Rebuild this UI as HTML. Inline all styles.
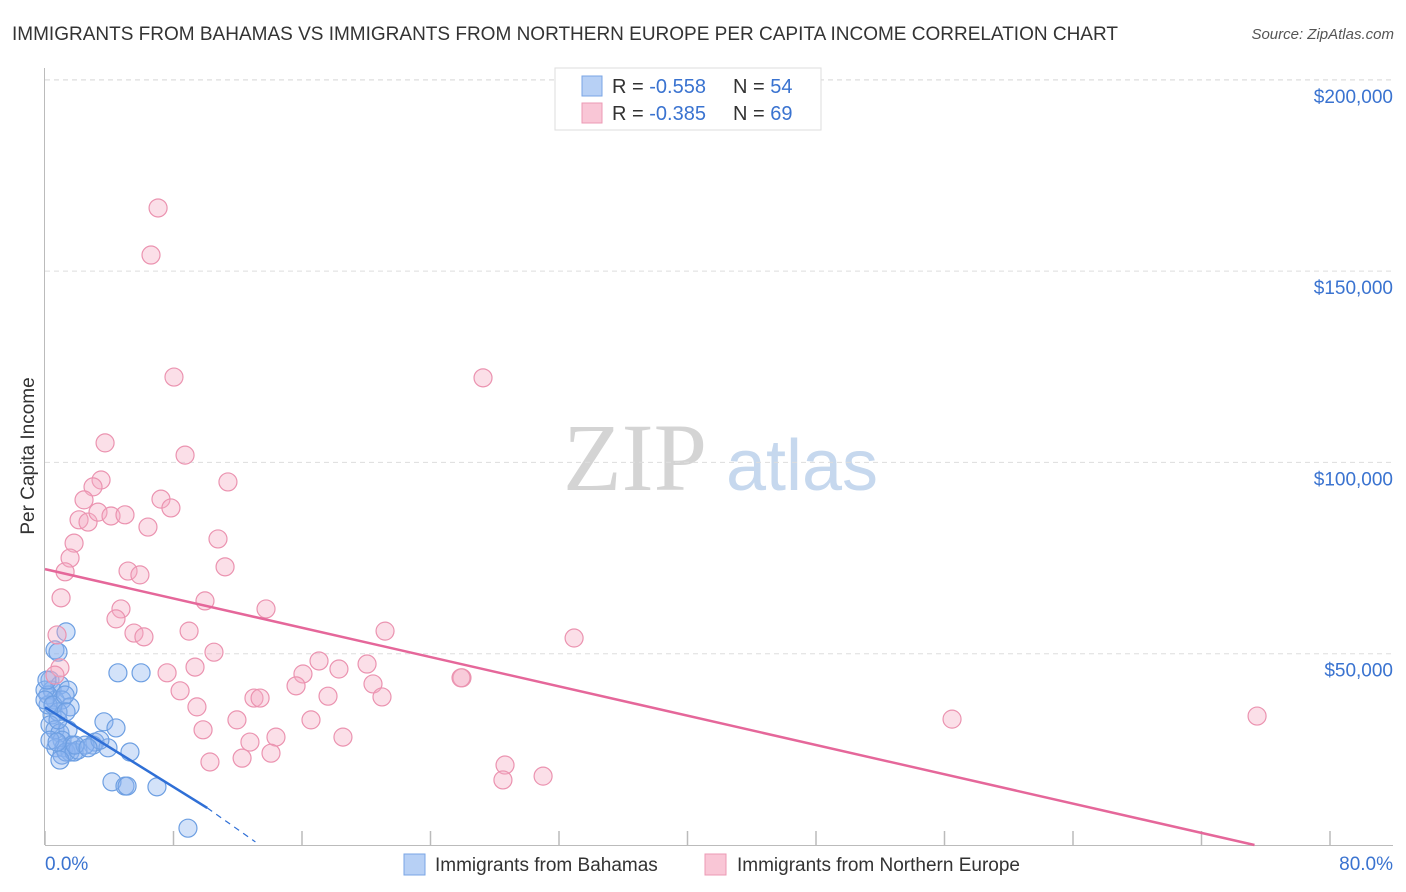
<!DOCTYPE html>
<html><head><meta charset="utf-8"><style>
body{margin:0;background:#fff;font-family:"Liberation Sans",sans-serif;}
svg{display:block}
</style></head><body>
<svg id="chart" width="1406" height="892">
<text x="12" y="40" font-size="19" fill="#333">IMMIGRANTS FROM BAHAMAS VS IMMIGRANTS FROM NORTHERN EUROPE PER CAPITA INCOME CORRELATION CHART</text>
<text x="1394" y="39" font-size="15" fill="#555" font-style="italic" text-anchor="end">Source: ZipAtlas.com</text>
<g>
<text x="635" y="490" font-size="96" font-family="Liberation Serif,serif" fill="#d4d4d4" text-anchor="middle">ZIP</text>
<text x="802" y="490" font-size="72" fill="#c6d8ee" text-anchor="middle">atlas</text>
</g>
<g id="grid"></g>
<g id="axes"></g>
<g id="points"></g>
<g id="trends"></g>
<text transform="translate(34,456) rotate(-90)" font-size="19" fill="#333" text-anchor="middle">Per Capita Income</text>
<text x="45" y="870" font-size="19" fill="#3a73d0">0.0%</text>
<text x="1393" y="870" font-size="19" fill="#3a73d0" text-anchor="end">80.0%</text>
<g>
<rect x="555" y="68" width="266" height="62" fill="#fff" stroke="#ddd"/>
<rect x="582" y="76" width="20" height="20" fill="#b7d0f5" stroke="#7aa5e5"/>
<rect x="582" y="103" width="20" height="20" fill="#f9c6d6" stroke="#ec9ab4"/>
<text x="612" y="93" font-size="20" fill="#333">R = <tspan fill="#3a73d0">-0.558</tspan><tspan x="733">N = </tspan><tspan fill="#3a73d0">54</tspan></text>
<text x="612" y="120" font-size="20" fill="#333">R = <tspan fill="#3a73d0">-0.385</tspan><tspan x="733">N = </tspan><tspan fill="#3a73d0">69</tspan></text>
</g>
<g>
<rect x="404" y="854" width="21" height="21" fill="#b7d0f5" stroke="#7aa5e5"/>
<text x="435" y="871" font-size="19" fill="#333">Immigrants from Bahamas</text>
</g>
<g>
<rect x="705" y="854" width="21" height="21" fill="#f9c6d6" stroke="#ec9ab4"/>
<text x="737" y="871" font-size="19" fill="#333">Immigrants from Northern Europe</text>
</g>
</svg>
<script>
const yTicks=[50,100,150,200];
const yTickLabels=["$50,000","$100,000","$150,000","$200,000"];
const xTicks=[0,8,16,24,32,40,48,56,64,72,80];
const blueX=[0.62,0.81,1.31,0.31,0.44,0.93,1.43,0.62,1.06,1.56,0.44,0.81,0.31,0.62,0.93,1.43,1.06,0.68,1.18,1.68,1.56,1.06,1.31,1.81,3.11,2.99,3.67,4.42,3.92,5.29,4.54,5.98,4.17,4.98,5.11,6.97,8.90,0.19,0.19,0.31,2.05,2.49,3.42,0.81,0,0,0.12,0.93,0.5,1.25,1.87,2.68,0.75,1.31];
const blueY=[51.0,50.4,55.7,43.1,40.5,41.8,40.5,37.9,37.9,36.1,34.0,34.8,31.4,30.1,29.3,30.1,27.4,25.4,25.4,26.1,24.3,23.5,24.3,24.3,26.9,26.1,32.2,30.6,25.4,24.3,45.0,45.0,16.5,15.4,15.4,15.2,4.4,39.2,36.6,27.4,24.8,26.1,27.4,32.7,40.5,37.9,43.1,22.2,36.6,39.2,26.1,25.4,26.9,34.8];
const pinkX=[7.04,6.60,8.03,27.27,3.74,8.72,3.49,11.39,2.99,2.43,7.22,7.84,2.12,2.68,3.30,4.11,4.98,6.41,10.77,1.81,1.56,1.25,5.17,5.91,11.21,1.00,9.96,4.73,13.76,4.42,0.75,5.54,6.16,8.97,21.17,32.94,10.52,0.93,7.60,9.34,17.06,18.30,20.05,16.06,8.41,15.63,17.62,20.42,20.98,13.01,13.39,25.96,25.90,9.46,11.95,16.56,9.84,18.55,12.76,14.38,14.07,12.27,10.27,28.64,28.51,31.01,56.47,75.46,0.62];
const pinkY=[166.5,154.2,122.3,122.1,105.1,101.9,95.4,94.9,93.6,90.2,90.4,88.1,85.0,84.4,87.0,86.0,86.3,83.1,80.0,78.9,75.0,71.4,71.6,70.6,72.7,64.6,63.8,61.7,61.7,59.1,54.9,55.4,54.4,55.9,55.9,54.1,50.4,46.3,45.0,46.5,48.1,46.0,47.3,44.7,40.3,41.6,38.9,42.1,38.7,38.4,38.4,43.7,43.7,36.1,32.7,32.7,30.1,28.2,26.9,28.2,24.0,22.7,21.7,20.9,17.0,18.0,32.9,33.7,44.4];
const blueTrend=[0,36,10.1,9.7,13.1,0.8];
const pinkTrend=[0,72.1,75.3,0];
const NS="http://www.w3.org/2000/svg";
const X0=45,X1=1330,Y0=845,PXK=3.826;
function sx(v){return X0+(X1-X0)*v/80;}
function sy(v){return Y0-v*PXK;}
function mk(tag,attrs,parent){const e=document.createElementNS(NS,tag);for(const k in attrs)e.setAttribute(k,attrs[k]);document.getElementById(parent).appendChild(e);return e;}
yTicks.forEach((t,i)=>{
 const l=mk('line',{x1:45,x2:1393,y1:sy(t),y2:sy(t),stroke:'#ddd','stroke-dasharray':'5,4'},'grid');
 
 
 const tx=mk('text',{x:1393,y:sy(t)+23,'font-size':19,fill:'#3a73d0','text-anchor':'end'},'grid');
 tx.textContent=yTickLabels[i];
 
 
});
const ga=mk('line',{x1:45,x2:1393,y1:80,y2:80,stroke:'#ddd','stroke-dasharray':'5,4'},'grid');


const ax=mk('line',{x1:44.5,x2:44.5,y1:68,y2:845,stroke:'#bbb'},'axes');


const bx=mk('line',{x1:45,x2:1393,y1:845.5,y2:845.5,stroke:'#bbb'},'axes');


xTicks.forEach(t=>{
 const l=mk('line',{x1:sx(t),x2:sx(t),y1:831,y2:845,stroke:'#bbb','stroke-width':1.5},'axes');
 
 
});
blueX.forEach((x,i)=>{
 const c=mk('circle',{cx:sx(x),cy:sy(blueY[i]),r:9,fill:'rgba(140,180,238,0.38)',stroke:'#6d9fe2','stroke-width':1.2},'points');
 
 
});
pinkX.forEach((x,i)=>{
 const c=mk('circle',{cx:sx(x),cy:sy(pinkY[i]),r:9,fill:'rgba(245,170,195,0.38)',stroke:'#eb93b0','stroke-width':1.2},'points');
 
 
});
const b1=mk('line',{x1:sx(blueTrend[0]),y1:sy(blueTrend[1]),x2:sx(blueTrend[2]),y2:sy(blueTrend[3]),stroke:'#2f6fd6','stroke-width':2.5},'trends');


const b2=mk('line',{x1:sx(blueTrend[2]),y1:sy(blueTrend[3]),x2:sx(blueTrend[4]),y2:sy(blueTrend[5]),stroke:'#2f6fd6','stroke-width':1.2,'stroke-dasharray':'6,5'},'trends');


const p1=mk('line',{x1:sx(pinkTrend[0]),y1:sy(pinkTrend[1]),x2:sx(pinkTrend[2]),y2:sy(pinkTrend[3]),stroke:'#e5679a','stroke-width':2.5},'trends');


</script>
</body></html>
